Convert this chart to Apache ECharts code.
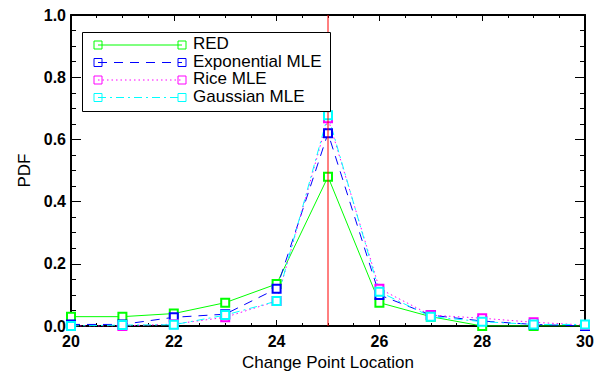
<!DOCTYPE html>
<html>
<head>
<meta charset="utf-8">
<script src="https://cdn.jsdelivr.net/npm/echarts@6/dist/echarts.min.js"></script>
<style>
  html, body { margin: 0; padding: 0; background: #fff; }
  #chart { width: 606px; height: 371px; }
</style>
</head>
<body>
<div id="chart"></div>
<script>
// change point locations
const locations = [20, 21, 22, 23, 24, 25, 26, 27, 28, 29, 30];
// PDF values
const redValues = [0.03, 0.03, 0.04, 0.075, 0.135, 0.48, 0.075, 0.03, 0.0, 0.0, 0.0];
const expValues = [0.005, 0.005, 0.028, 0.038, 0.12, 0.62, 0.10, 0.035, 0.016, 0.005, 0.0];
const riceValues = [0.0, 0.0, 0.006, 0.028, 0.08, 0.668, 0.12, 0.035, 0.025, 0.012, 0.003];
const gaussValues = [0.0, 0.003, 0.004, 0.035, 0.08, 0.678, 0.11, 0.03, 0.014, 0.005, 0.005];
// true change point (vertical red line)
const changePoint = 25;
const markerSpan = [0, 1];

const seriesDefs = [
  { name: "RED", values: redValues, color: "#00ff00", type: "solid" },
  { name: "Exponential MLE", values: expValues, color: "#0000ff", type: [9, 7] },
  { name: "Rice MLE", values: riceValues, color: "#ff00ff", type: [1.5, 3] },
  { name: "Gaussian MLE", values: gaussValues, color: "#00ffff", type: [8, 4, 2, 4] }
];

const FONT = "Liberation Sans";

const chart = echarts.init(document.getElementById("chart"), null, { renderer: "svg" });

const xBase = {
  type: "value",
  min: 20,
  max: 30,
  interval: 2,
  splitLine: { show: false },
  axisLine: { show: true, onZero: false, lineStyle: { color: "#000", width: 2 } },
  axisTick: { show: true, inside: true, length: 6, lineStyle: { color: "#000", width: 1 } },
  minorTick: { show: true, splitNumber: 4, length: 3, lineStyle: { color: "#000", width: 1 } }
};
const yBase = {
  type: "value",
  min: 0,
  max: 1,
  interval: 0.2,
  splitLine: { show: false },
  axisLine: { show: true, onZero: false, lineStyle: { color: "#000", width: 2 } },
  axisTick: { show: true, inside: true, length: 10, lineStyle: { color: "#000", width: 1 } },
  minorTick: { show: true, splitNumber: 4, length: 5, lineStyle: { color: "#000", width: 1 } }
};

const series = seriesDefs.map(function (s) {
  return {
    name: s.name,
    type: "line",
    data: locations.map(function (x, i) { return [x, s.values[i]]; }),
    symbol: "emptyRect",
    symbolSize: 8,
    showAllSymbol: true,
    itemStyle: { color: s.color, borderColor: s.color, borderWidth: 1 },
    lineStyle: { color: s.color, width: 1, type: s.type },
    animation: false,
    z: 2
  };
});
series.push({
  name: "change",
  type: "line",
  data: markerSpan.map(function (v) { return [changePoint, v]; }),
  symbol: "none",
  lineStyle: { color: "#ff0000", width: 1 },
  animation: false,
  z: 3
});

// legend drawn by hand: line with a square on each end
const legendLeft = 82, legendTop = 32, rowY = [45, 62.5, 80, 97.5];
const legendItems = [
  { type: "rect", shape: { x: legendLeft + 0.5, y: legendTop + 0.5, width: 248, height: 79 },
    style: { fill: "#fff", stroke: "#000", lineWidth: 1 }, z: 10 }
];
seriesDefs.forEach(function (s, i) {
  const y = rowY[i];
  legendItems.push({ type: "line", shape: { x1: 98, y1: y, x2: 182, y2: y },
    style: { stroke: s.color, lineWidth: 1, lineDash: s.type === "solid" ? null : s.type }, z: 11 });
  [98, 182].forEach(function (x) {
    legendItems.push({ type: "rect", shape: { x: x - 4, y: y - 4, width: 8, height: 8 },
      style: { fill: "none", stroke: s.color, lineWidth: 1 }, z: 12 });
  });
  legendItems.push({ type: "text", left: 193, top: y - 10,
    style: { text: s.name, fill: "#000", font: "17px " + FONT }, z: 12 });
});

chart.setOption({
  backgroundColor: "#fff",
  textStyle: { fontFamily: FONT },
  grid: { left: 71, right: 21, top: 15, bottom: 45, outerBoundsMode: "none", containLabel: false },
  xAxis: [
    Object.assign({}, xBase, {
      position: "bottom",
      name: "Change Point Location",
      nameLocation: "middle",
      nameGap: 28,
      nameTextStyle: { color: "#000", fontSize: 17, fontFamily: FONT },
      axisLabel: { color: "#000", fontSize: 16, fontWeight: "bold", fontFamily: FONT, margin: 7 }
    }),
    Object.assign({}, xBase, { position: "top", axisLabel: { show: false } })
  ],
  yAxis: [
    Object.assign({}, yBase, {
      position: "left",
      name: "PDF",
      nameLocation: "middle",
      nameGap: 37,
      nameTextStyle: { color: "#000", fontSize: 17, fontFamily: FONT },
      axisLabel: {
        color: "#000", fontSize: 16, fontWeight: "bold", fontFamily: FONT, margin: 5,
        formatter: function (v) { return v.toFixed(1); }
      }
    }),
    Object.assign({}, yBase, { position: "right", axisLabel: { show: false } })
  ],
  series: series,
  graphic: legendItems
});
</script>
</body>
</html>
